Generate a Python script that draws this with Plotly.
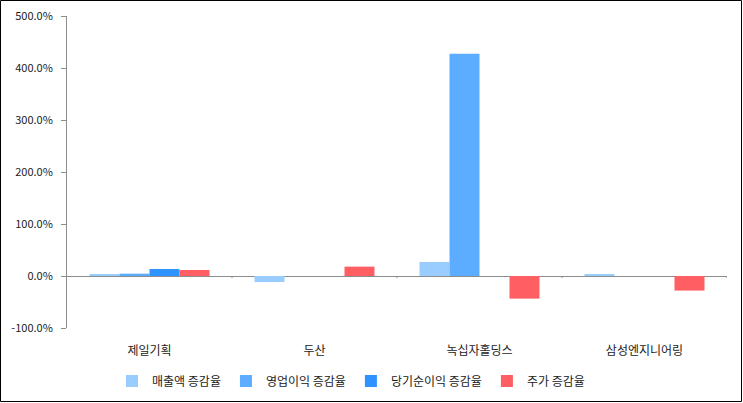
import plotly.graph_objects as go

categories = ["제일기획", "두산", "녹십자홀딩스", "삼성엔지니어링"]
series_names = ["매출액 증감율", "영업이익 증감율", "당기순이익 증감율", "주가 증감율"]
sales = [2.3, -11.5, 27.0, 2.0]
op_profit = [4.5, 0.0, 427.5, 0.0]
net_profit = [13.5, 0.0, 0.0, 0.0]
stock = [11.5, 18.0, -43.5, -28.0]
colors = ["#99CCFF", "#5CADFF", "#2E93FF", "#FF5F63"]
tick_values = [-100, 0, 100, 200, 300, 400, 500]
tick_labels = ["-100.0%", "0.0%", "100.0%", "200.0%", "300.0%", "400.0%", "500.0%"]

W, H = 743, 403
ml, mr, mt, mb = 67, 16, 16, 75
font_family = "Noto Sans CJK KR, Noto Sans, sans-serif"

fig = go.Figure()
for name, vals, col in zip(series_names, [sales, op_profit, net_profit, stock], colors):
    fig.add_trace(go.Bar(x=categories, y=vals, name=name, marker=dict(color=col, line=dict(width=0))))

pw = W - ml - mr
ph = H - mt - mb
shapes = [
    dict(type="rect", xref="paper", yref="paper",
         x0=-(ml - 0.5) / pw, x1=1 + (mr - 1.5) / pw,
         y0=-(mb - 1.5) / ph, y1=1 + (mt - 0.5) / ph,
         line=dict(color="black", width=1), fillcolor="rgba(0,0,0,0)", layer="above"),
]
for i in range(len(categories)):
    shapes.append(dict(type="line", xref="x", yref="y", x0=i + 0.5, x1=i + 0.5,
                       y0=0, y1=-4, line=dict(color="#8c8c8c", width=1)))

fig.update_layout(
    width=W, height=H,
    margin=dict(l=ml, r=mr, t=mt, b=mb, pad=0, autoexpand=False),
    paper_bgcolor="white", plot_bgcolor="white",
    barmode="group", bargap=0.273, bargroupgap=0,
    font=dict(family=font_family, size=12, color="#222"),
    showlegend=True,
    legend=dict(orientation="h", x=(364 - 13 - ml) / pw, xanchor="center",
                y=-(53 / ph), yanchor="middle",
                font=dict(size=12, family=font_family),
                tracegroupgap=0, bgcolor="rgba(0,0,0,0)"),
    shapes=shapes,
)
fig.update_xaxes(showgrid=False, showline=False, zeroline=False, ticks="",
                 ticklabelstandoff=14, tickangle=0, tickfont=dict(size=12, family=font_family),
                 range=[-0.5, len(categories) - 0.5])
fig.update_yaxes(range=[-100, 500], tickvals=tick_values, ticktext=tick_labels,
                 showgrid=False, showline=True, linecolor="#8c8c8c", linewidth=1,
                 ticks="outside", ticklen=5, tickcolor="#8c8c8c",
                 zeroline=True, zerolinecolor="#8c8c8c", zerolinewidth=1,
                 tickfont=dict(size=11, family=font_family), ticklabelstandoff=6)

fig.write_html("out.html", config={"displayModeBar": False},
               post_script="document.body.style.margin='0';document.body.style.overflow='hidden';")
